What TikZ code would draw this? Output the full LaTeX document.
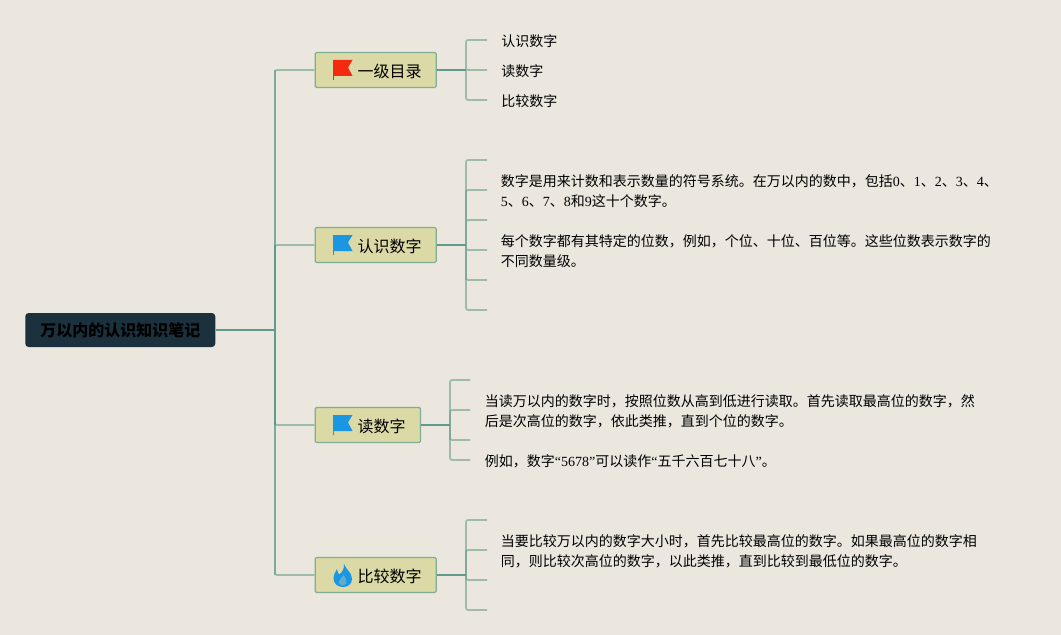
\documentclass[tikz,border=0pt]{standalone}
\usepackage{fontspec}
\setmainfont{Liberation Serif}
\newfontfamily\cjk{Noto Sans CJK SC}
\newcommand{\lat}[1]{{\rmfamily\normalfont #1}}
\definecolor{bgc}{HTML}{EBE7DF}
\definecolor{boxfill}{HTML}{DBD9A6}
\definecolor{boxline}{HTML}{7FAE94}
\definecolor{dark}{HTML}{5F9A8C}
\definecolor{mid}{HTML}{7FAA9B}
\definecolor{lite}{HTML}{9DBBAB}
\definecolor{rootfill}{HTML}{1B323E}
\definecolor{flagred}{HTML}{F32A10}
\definecolor{flagblue}{HTML}{1A96E2}
\tikzset{
  x=0.75pt,y=-0.75pt,
  topic/.style={draw=boxline,line width=0.9pt,fill=boxfill,rounded corners=1pt,minimum height=26.25pt,inner sep=0pt,anchor=west},
  toplabel/.style={font=\cjk\fontsize{12}{14}\selectfont,text=black,inner sep=0pt,anchor=west},
  rootbox/.style={fill=rootfill,rounded corners=2.5pt,minimum width=142.5pt,minimum height=25.5pt,inner sep=0pt,font=\cjk\bfseries\fontsize{12}{14}\selectfont,text=black,anchor=west},
  para/.style={font=\cjk\fontsize{10.5}{15}\selectfont,text=black,inner sep=0pt,anchor=north west,align=left},
  leaf/.style={font=\cjk\fontsize{10.5}{15}\selectfont,text=black,inner sep=0pt,anchor=west},
  main/.style={draw=dark,line width=1.3pt},
  sub/.style={draw=lite,line width=1.3pt,rounded corners=1.5pt},
  spine/.style={draw=mid,line width=1.3pt},
}
\newcommand{\flagicon}[3]{%
  \fill[#3] (#1-9,#2-10) -- (#1+10,#2-10) -- (#1+5.5,#2-2.5) -- (#1+10,#2+6) -- (#1-9,#2+6) -- cycle;
  \fill[#3] (#1-10,#2-10) rectangle (#1-8.6,#2+10);
}
\begin{document}
\begin{tikzpicture}
\useasboundingbox (0,0) rectangle (1061,635);
\fill[bgc] (0,0) rectangle (1061,635);

% nodes
\node[rootbox] (root) at (25,330) {万以内的认识知识笔记};
\node[topic,minimum width=90.75pt] (t1) at (314.6,70) {};
\node[topic,minimum width=90.75pt] (t2) at (314.6,245) {};
\node[topic,minimum width=79pt] (t3) at (314.6,425) {};
\node[topic,minimum width=90.75pt] (t4) at (314.6,575) {};
\node[toplabel] (l1) at (357.3,71) {一级目录};
\node[toplabel] (l2) at (357.3,246) {认识数字};
\node[toplabel] (l3) at (357.3,426) {读数字};
\node[toplabel] (l4) at (357.3,576) {比较数字};

\node[leaf] (a1) at (501,41.5) {认识数字};
\node[leaf] (a2) at (501,71.5) {读数字};
\node[leaf] (a3) at (501,101.5) {比较数字};

\node[para] (b1) at (500.7,174.4) {数字是用来计数和表示数量的符号系统。在万以内的数中，包括\lat{0}、\lat{1}、\lat{2}、\lat{3}、\lat{4}、\\\lat{5}、\lat{6}、\lat{7}、\lat{8}和\lat{9}这十个数字。};
\node[para] (b2) at (500.7,234.4) {每个数字都有其特定的位数，例如，个位、十位、百位等。这些位数表示数字的\\不同数量级。};
\node[para] (c1) at (484.7,394.6) {当读万以内的数字时，按照位数从高到低进行读取。首先读取最高位的数字，然\\后是次高位的数字，依此类推，直到个位的数字。};
\node[para] (c2) at (484.7,454.6) {例如，数字\lat{“5678”}可以读作\lat{“}五千六百七十八\lat{”}。};
\node[para] (d1) at (500.7,534.6) {当要比较万以内的数字大小时，首先比较最高位的数字。如果最高位的数字相\\同，则比较次高位的数字，以此类推，直到比较到最低位的数字。};

% junctions and stub ends
\coordinate (jr) at (275,330);
\coordinate (j1) at (466,70);
\coordinate (j2) at (466,245);
\coordinate (j3) at (450,425);
\coordinate (j4) at (466,575);
\foreach \n/\y in {1/40,2/70,3/100}{\coordinate (e1\n) at (487,\y);}
\foreach \n/\y in {1/160,2/190,3/220,4/250,5/280,6/310}{\coordinate (e2\n) at (487,\y);}
\foreach \n/\y in {1/380,2/410,3/440,4/460}{\coordinate (e3\n) at (470,\y);}
\foreach \n/\y in {1/520,2/550,3/580,4/610}{\coordinate (e4\n) at (487,\y);}

% connectors
\foreach \n in {1,2,3,4}{\draw[sub] (jr) |- (t\n.west);}
\draw[spine] (jr |- t1.west) -- (jr |- t4.west);
\draw[main] (jr |- t2.west) -- (jr |- t3.west);
\draw[main] (root.east) -- (jr);
\foreach \e in {1,2,3}{\draw[sub] (j1) |- (e1\e);}
\foreach \e in {1,...,6}{\draw[sub] (j2) |- (e2\e);}
\foreach \e in {1,...,4}{\draw[sub] (j3) |- (e3\e);}
\foreach \e in {1,...,4}{\draw[sub] (j4) |- (e4\e);}
\draw[spine] (j2 |- e22) -- (j2 |- e25);
\draw[spine] (j3 |- e32) -- (j3 |- e33);
\draw[spine] (j4 |- e42) -- (j4 |- e43);
\foreach \n in {1,2,3,4}{\draw[main] (t\n.east) -- (j\n);}

% icons
\flagicon{342.5}{70}{flagred}
\flagicon{342.5}{245}{flagblue}
\flagicon{342.5}{425}{flagblue}
\fill[flagblue] (344,564) .. controls (346,570) and (352,572) .. (352,579) .. controls (352,584) and (348,587) .. (343,587) .. controls (338,587) and (333.5,584) .. (333.5,578) .. controls (333.5,574) and (336,572) .. (337,569) .. controls (337.5,572) and (338,574) .. (339.5,574.5) .. controls (342,572) and (344.5,569) .. (344,564) -- cycle;
\fill[boxfill!35!flagblue] (343.5,575) .. controls (345,578) and (347.5,580) .. (346.5,583) .. controls (345.5,586) and (340,586) .. (339,583) .. controls (338.5,580) and (342,578) .. (343.5,575) -- cycle;
\end{tikzpicture}
\end{document}
